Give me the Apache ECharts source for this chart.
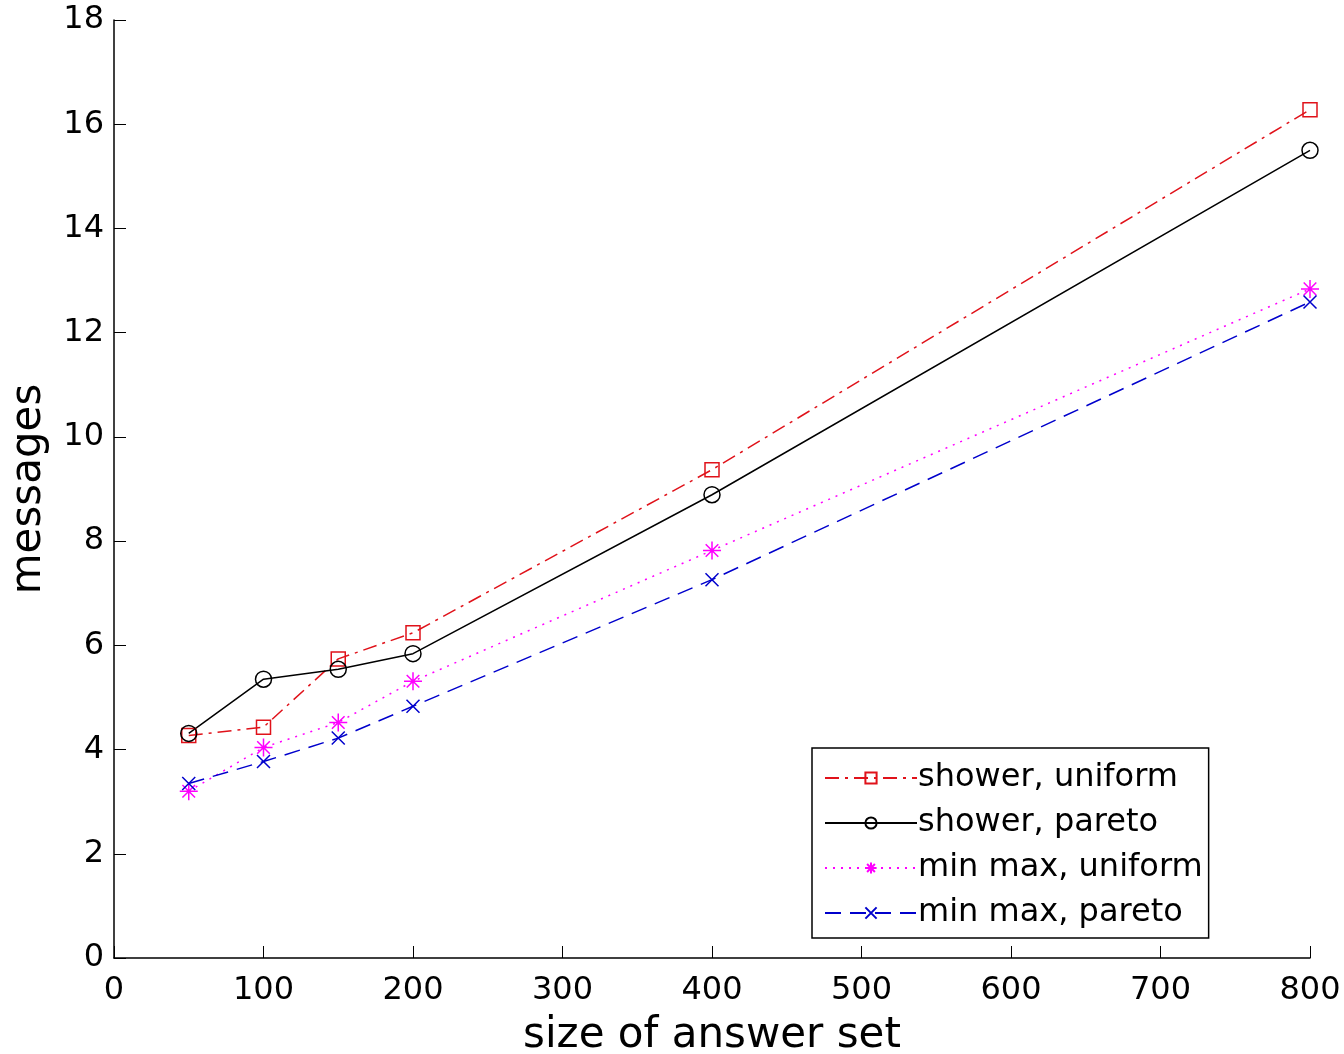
<!DOCTYPE html>
<html>
<head>
<meta charset="utf-8">
<script src="https://cdn.jsdelivr.net/npm/echarts@6/dist/echarts.min.js"></script>
<style>
  html, body { margin: 0; padding: 0; background: #fff; }
  #chart { width: 1344px; height: 1054px; }
</style>
</head>
<body>
<div id="chart"></div>
<script>
// answer set sizes
const sizes = [50, 100, 150, 200, 400, 800];
// messages per series
const showerUniform = [4.27, 4.43, 5.74, 6.24, 9.37, 16.28];
const showerPareto = [4.31, 5.35, 5.54, 5.84, 8.89, 15.5];
const minmaxUniform = [3.2, 4.04, 4.52, 5.31, 7.82, 12.84];
const minmaxPareto = [3.35, 3.77, 4.22, 4.83, 7.26, 12.59];
const names = ["shower, uniform", "shower, pareto", "min max, uniform", "min max, pareto"];

const pairs = (ys) => sizes.map((x, i) => [x, ys[i]]);

const starPath = "path://M5,0 L5,10 M0,5 L10,5 M1.5,1.5 L8.5,8.5 M8.5,1.5 L1.5,8.5";
const crossPath = "path://M1,1 L9,9 M9,1 L1,9";

const mkSeries = (name, ys, color, type, symbol, size) => ({
  name: name,
  type: "line",
  data: pairs(ys),
  symbol: symbol,
  symbolSize: size,
  lineStyle: { color: color, width: 1.5, type: type },
  itemStyle: { color: "transparent", borderColor: color, borderWidth: 1.5 },
  emphasis: { disabled: true },
});

const option = {
  animation: false,
  backgroundColor: "#fff",
  textStyle: { fontFamily: "DejaVu Sans, sans-serif" },
  grid: {
    left: 114, right: 34, top: 20, bottom: 96,
    containLabel: false,
    outerBoundsMode: "none",
  },
  legend: {
    orient: "vertical",
    left: 812,
    top: 748,
    padding: [14, 6, 9, 12],
    itemGap: 13,
    itemWidth: 92,
    itemHeight: 14,
    backgroundColor: "#fff",
    borderColor: "#000",
    borderWidth: 1.5,
    borderRadius: 0,
    textStyle: { fontSize: 32, color: "#000", padding: [0, 0, 0, -4] },
    data: names,
  },
  xAxis: {
    type: "value",
    min: 0,
    max: 800,
    interval: 100,
    name: "size of answer set",
    nameLocation: "middle",
    nameGap: 57,
    nameTextStyle: { fontSize: 42, color: "#000" },
    axisLine: { lineStyle: { color: "#000", width: 1.5 } },
    axisTick: { inside: true, length: 12, lineStyle: { color: "#000" } },
    axisLabel: { fontSize: 32, color: "#000", margin: 17 },
    splitLine: { show: false },
  },
  yAxis: {
    type: "value",
    min: 0,
    max: 18,
    interval: 2,
    name: "messages",
    nameLocation: "middle",
    nameGap: 64,
    nameTextStyle: { fontSize: 42, color: "#000" },
    axisLine: { show: true, lineStyle: { color: "#000", width: 1.5 } },
    axisTick: { show: true, inside: true, length: 12, lineStyle: { color: "#000" } },
    axisLabel: { fontSize: 32, color: "#000", margin: 10 },
    splitLine: { show: false },
  },
  series: [
    mkSeries(names[0], showerUniform, "#e0121a", [14, 6, 3, 6], "rect", 14),
    mkSeries(names[1], showerPareto, "#000000", "solid", "circle", 16),
    mkSeries(names[2], minmaxUniform, "#ff00ff", [2, 6], starPath, 18),
    mkSeries(names[3], minmaxPareto, "#0000cc", [16, 9], crossPath, 13),
  ],
};

const myChart = echarts.init(document.getElementById("chart"));
myChart.setOption(option);
</script>
</body>
</html>
